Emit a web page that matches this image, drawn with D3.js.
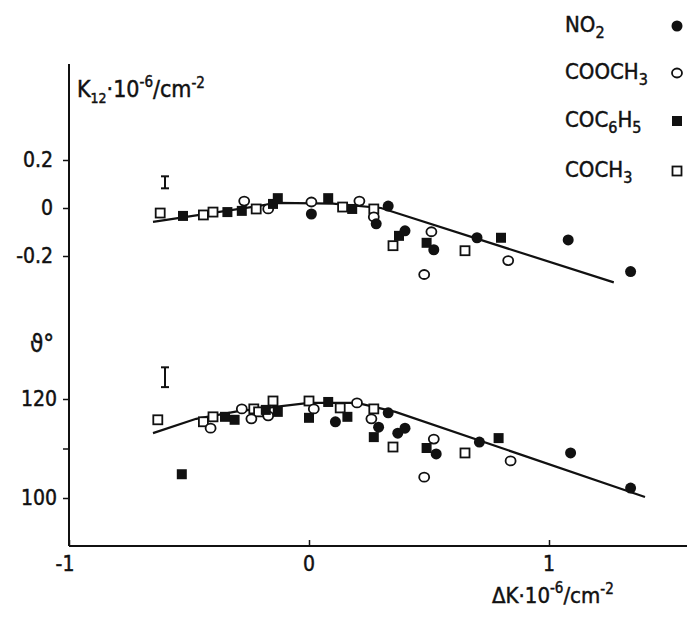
<!DOCTYPE html>
<html>
<head>
<meta charset="utf-8">
<script src="https://cdn.jsdelivr.net/npm/d3@7"></script>
<style>
  html, body { margin: 0; padding: 0; background: #ffffff; }
  svg { display: block; }
  text { font-family: "Liberation Sans Narrow", "DejaVu Sans Condensed", "Noto Sans", sans-serif; fill: #111; stroke: #111; stroke-width: 0.45px; }
</style>
</head>
<body>
<svg id="chart" width="687" height="623"></svg>
<script>
// ---------- data ----------
const seriesNames = ["NO2", "COOCH3", "COC6H5", "COCH3"];
const seriesLabels = [
  [["NO", 0], ["2", 1]],
  [["COOCH", 0], ["3", 1]],
  [["COC", 0], ["6", 1], ["H", 0], ["5", 1]],
  [["COCH", 0], ["3", 1]]
];
const xTicks = [-1, 0, 1];
const kTicks = [0.2, 0, -0.2];
const kTickLabels = ["0.2", "0", "-0.2"];
const thetaTicks = [120, 110, 100];
const thetaTickLabels = ["120", "", "100"];

// top panel: K12 vs ΔK
const kNO2 = [[0.01,-0.025],[0.28,-0.066],[0.33,0.008],[0.40,-0.095],[0.52,-0.174],[0.70,-0.124],[1.08,-0.133],[1.34,-0.265]];
const kCOOCH3 = [[-0.27,0.029],[-0.17,-0.004],[0.01,0.025],[0.21,0.029],[0.27,-0.037],[0.51,-0.099],[0.83,-0.219],[0.48,-0.277]];
const kCOC6H5 = [[-0.525,-0.033],[-0.34,-0.017],[-0.28,-0.012],[-0.15,0.017],[-0.13,0.041],[0.08,0.041],[0.18,-0.004],[0.375,-0.116],[0.49,-0.145],[0.80,-0.124]];
const kCOCH3 = [[-0.62,-0.021],[-0.44,-0.029],[-0.40,-0.017],[-0.22,-0.004],[0.14,0.004],[0.27,-0.004],[0.35,-0.157],[0.65,-0.178]];
const kLine = [[-0.65,-0.058],[-0.13,0.021],[0.1,0.018],[0.3,0.0],[1.27,-0.31]];
const kError = [-0.6, 0.107, 0.025];

// bottom panel: θ vs ΔK
const tNO2 = [[0.11,115.4],[0.29,114.3],[0.33,117.2],[0.37,113.1],[0.40,114.1],[0.53,108.9],[0.71,111.3],[1.09,109.1],[1.34,102.0]];
const tCOOCH3 = [[-0.41,114.1],[-0.28,118.0],[-0.24,116.0],[-0.17,116.6],[0.02,118.0],[0.20,119.2],[0.26,116.0],[0.52,111.9],[0.48,104.2],[0.84,107.5]];
const tCOC6H5 = [[-0.53,104.8],[-0.35,116.4],[-0.31,115.8],[-0.18,117.8],[-0.13,117.4],[0.0,116.2],[0.08,119.4],[0.16,116.4],[0.27,112.3],[0.49,110.1],[0.79,112.1]];
const tCOCH3 = [[-0.63,115.8],[-0.44,115.4],[-0.40,116.4],[-0.23,118.0],[-0.21,117.4],[-0.15,119.6],[0.0,119.6],[0.13,118.2],[0.27,118.0],[0.35,110.3],[0.65,109.1]];
const tLine = [[-0.65,113.1],[-0.47,116.0],[-0.3,117.5],[0.0,119.2],[0.2,119.2],[0.36,117.4],[1.4,100.2]];
const tError = [-0.6, 124.4, 2.0];

// ---------- drawing ----------
const svg = d3.select("#chart");
const ink = "#111";

const x = d3.scaleLinear().domain([-1, 1]).range([69, 549]);
const yK = d3.scaleLinear().domain([-0.2, 0.2]).range([256, 160]);
const yT = d3.scaleLinear().domain([100, 120]).range([498, 399]);

const axisX0 = 69, axisTop = 64, axisY = 546, axisRight = 687;

// axis lines
svg.append("line").attr("x1", axisX0).attr("x2", axisX0).attr("y1", axisTop).attr("y2", axisY)
  .attr("stroke", ink).attr("stroke-width", 2);
svg.append("line").attr("x1", axisX0).attr("x2", axisRight).attr("y1", axisY).attr("y2", axisY)
  .attr("stroke", ink).attr("stroke-width", 2);

// x axis ticks
const gx = svg.append("g").attr("transform", `translate(0,${axisY})`)
  .call(d3.axisTop(x).tickValues(xTicks).tickSize(6).tickFormat(""));
gx.select(".domain").remove();
gx.selectAll("line").attr("stroke", ink).attr("stroke-width", 1.5);
svg.selectAll(".xlab").data(xTicks).enter().append("text")
  .attr("x", d => x(d) - (d < 0 ? 4 : 0))
  .attr("y", axisY + 25)
  .attr("text-anchor", "middle")
  .attr("font-size", 21)
  .text(d => d < 0 ? "-" + Math.abs(d) : String(d));

// K axis ticks
const gk = svg.append("g").attr("transform", `translate(${axisX0},0)`)
  .call(d3.axisLeft(yK).tickValues(kTicks).tickSize(6).tickFormat((d, i) => kTickLabels[i]));
gk.select(".domain").remove();
gk.selectAll("line").attr("stroke", ink).attr("stroke-width", 1.5);
gk.selectAll("text").attr("font-size", 21).attr("x", -16).attr("fill", ink)
  .style("font-family", '"Liberation Sans Narrow", "DejaVu Sans Condensed", sans-serif');

// θ axis ticks
const gt = svg.append("g").attr("transform", `translate(${axisX0},0)`)
  .call(d3.axisLeft(yT).tickValues(thetaTicks).tickSize(6).tickFormat((d, i) => thetaTickLabels[i]));
gt.select(".domain").remove();
gt.selectAll("line").attr("stroke", ink).attr("stroke-width", 1.5);
gt.selectAll("text").attr("font-size", 21).attr("x", -12).attr("fill", ink)
  .style("font-family", '"Liberation Sans Narrow", "DejaVu Sans Condensed", sans-serif');

// axis titles
const kTitle = svg.append("text").attr("x", 77).attr("y", 97).attr("font-size", 23);
kTitle.append("tspan").text("K");
kTitle.append("tspan").attr("font-size", 14).attr("dy", 6).text("12");
kTitle.append("tspan").attr("dy", -6).text("·10");
kTitle.append("tspan").attr("font-size", 15).attr("dy", -10).text("-6");
kTitle.append("tspan").attr("dy", 10).text("/cm");
kTitle.append("tspan").attr("font-size", 15).attr("dy", -9).text("-2");

svg.append("text").attr("x", 30).attr("y", 352).attr("font-size", 24).text("ϑ°");

const xTitle = svg.append("text").attr("x", 492).attr("y", 603).attr("font-size", 22);
xTitle.append("tspan").text("ΔK·10");
xTitle.append("tspan").attr("font-size", 15).attr("dy", -10).text("-6");
xTitle.append("tspan").attr("dy", 10).text("/cm");
xTitle.append("tspan").attr("font-size", 15).attr("dy", -9).text("-2");

// fit lines
const lineK = d3.line().x(d => x(d[0])).y(d => yK(d[1]));
const lineT = d3.line().x(d => x(d[0])).y(d => yT(d[1]));
svg.append("path").attr("d", lineK(kLine)).attr("fill", "none").attr("stroke", ink).attr("stroke-width", 2.2);
svg.append("path").attr("d", lineT(tLine)).attr("fill", "none").attr("stroke", ink).attr("stroke-width", 2.2);

// error bars
function errorBar(xv, yv, err, ys) {
  const cx = x(xv), y1 = ys(yv + err), y2 = ys(yv - err);
  const g = svg.append("g").attr("stroke", ink).attr("stroke-width", 2);
  g.append("line").attr("x1", cx).attr("x2", cx).attr("y1", y1).attr("y2", y2);
  g.append("line").attr("x1", cx - 4).attr("x2", cx + 4).attr("y1", y1).attr("y2", y1);
  g.append("line").attr("x1", cx - 4).attr("x2", cx + 4).attr("y1", y2).attr("y2", y2);
}
errorBar(kError[0], kError[1], kError[2], yK);
errorBar(tError[0], tError[1], tError[2], yT);

// markers
function marker(g, type, cx, cy) {
  if (type === "NO2") {
    g.append("circle").attr("cx", cx).attr("cy", cy).attr("r", 5.5).attr("fill", ink);
  } else if (type === "COOCH3") {
    g.append("ellipse").attr("cx", cx).attr("cy", cy).attr("rx", 5).attr("ry", 4.5)
      .attr("fill", "#fff").attr("stroke", ink).attr("stroke-width", 1.8);
  } else if (type === "COC6H5") {
    g.append("rect").attr("x", cx - 5).attr("y", cy - 5).attr("width", 10).attr("height", 10).attr("fill", ink);
  } else {
    g.append("rect").attr("x", cx - 4.5).attr("y", cy - 4.5).attr("width", 9).attr("height", 9)
      .attr("fill", "#fff").attr("stroke", ink).attr("stroke-width", 1.8);
  }
}
const topSets = [["COCH3", kCOCH3], ["COOCH3", kCOOCH3], ["COC6H5", kCOC6H5], ["NO2", kNO2]];
const botSets = [["COCH3", tCOCH3], ["COOCH3", tCOOCH3], ["COC6H5", tCOC6H5], ["NO2", tNO2]];
const gm = svg.append("g");
topSets.forEach(([name, pts]) => pts.forEach(p => marker(gm, name, x(p[0]), yK(p[1]))));
botSets.forEach(([name, pts]) => pts.forEach(p => marker(gm, name, x(p[0]), yT(p[1]))));

// legend
const legY = [32, 79, 127, 177];
seriesNames.forEach((name, i) => {
  const t = svg.append("text").attr("x", 565).attr("y", legY[i]).attr("font-size", 22);
  let sub = false;
  seriesLabels[i].forEach(([s, isSub]) => {
    const ts = t.append("tspan").text(s);
    if (isSub && !sub) { ts.attr("dy", 6).attr("font-size", 16); sub = true; }
    else if (!isSub && sub) { ts.attr("dy", -6); sub = false; }
    else if (isSub) { ts.attr("font-size", 16); }
  });
  marker(svg, name, 677, legY[i] - 6);
});
</script>
</body>
</html>
